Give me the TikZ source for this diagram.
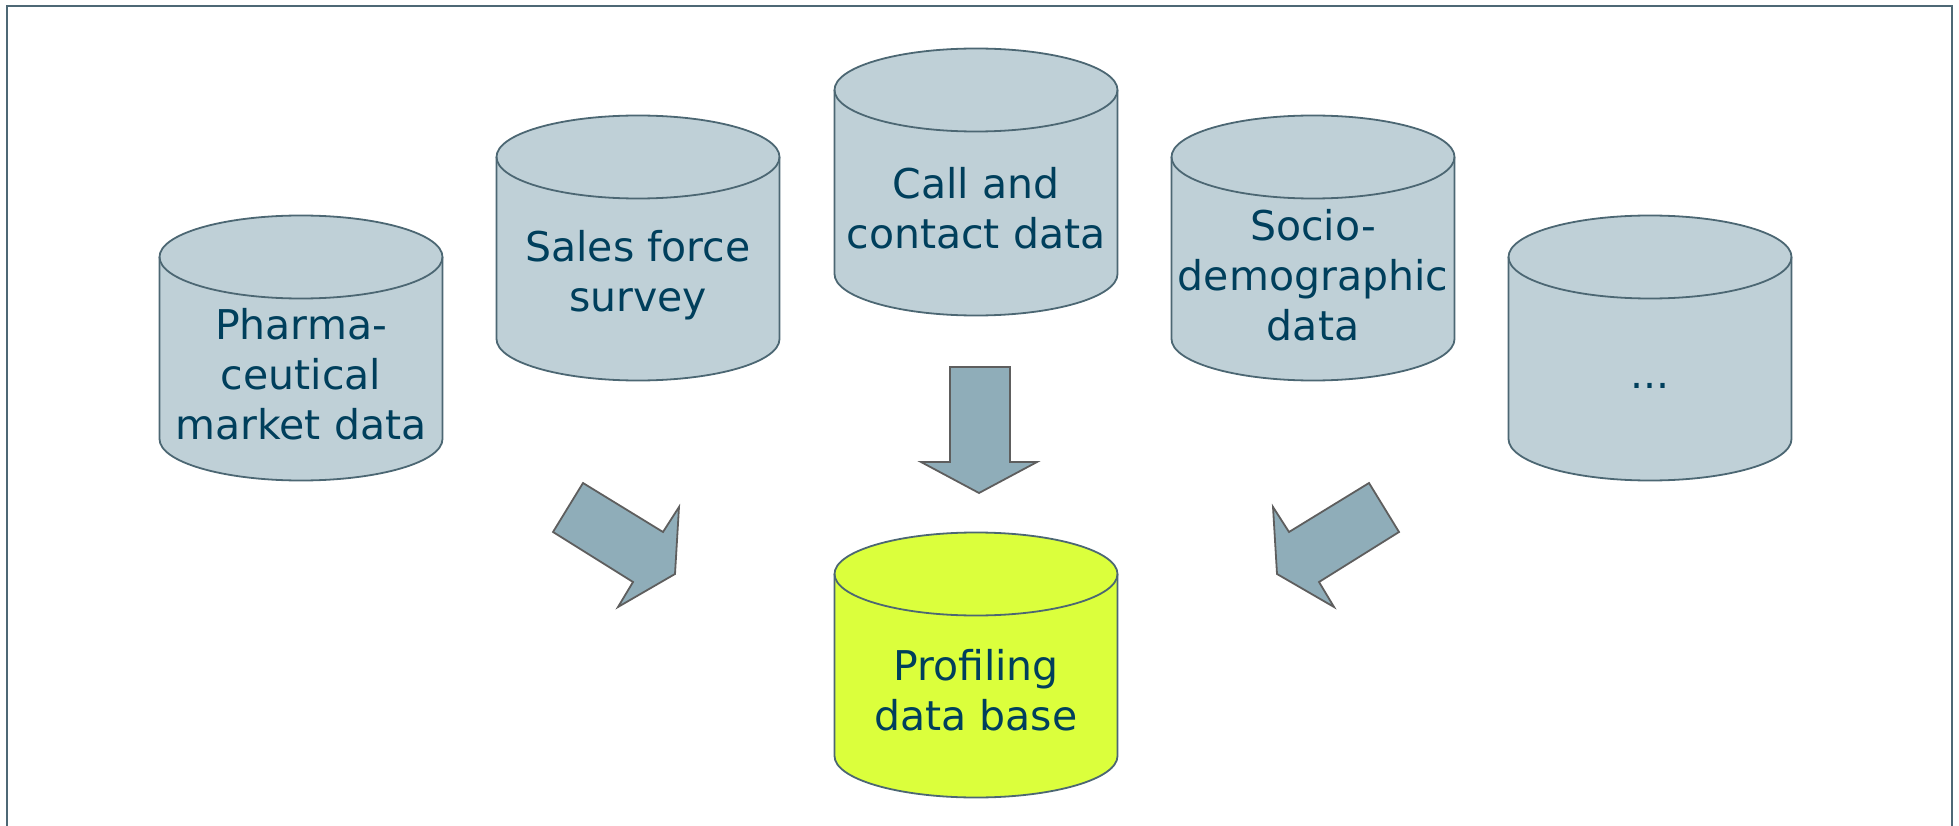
\documentclass[tikz,border=0pt]{standalone}
\usepackage{fontspec}
\setmainfont{DejaVu Sans}
\definecolor{dbfill}{HTML}{BFD0D7}
\definecolor{dbline}{HTML}{4C6773}
\definecolor{dbtext}{HTML}{003F5C}
\definecolor{dbyellow}{HTML}{DBFF3C}
\definecolor{arrowfill}{HTML}{8FADB9}
\definecolor{arrowline}{HTML}{5E5E5E}
\definecolor{frameline}{HTML}{4D6875}
\begin{document}
\begin{tikzpicture}[x=1pt,y=-1pt,
  dbbody/.style={draw=dbline, line width=1.8pt},
  dblabel/.style={align=center, text=dbtext, inner sep=0pt, font=\fontsize{41}{50}\selectfont},
  blockarrow/.style={draw=arrowline, fill=arrowfill, line width=1.8pt, line join=miter}]
\useasboundingbox (0,0) rectangle (1959,826);
\draw[frameline, line width=2pt] (7,840) -- (7,6) -- (1952,6) -- (1952,840);
% cylinders: centre x / top ellipse y / bottom ellipse y / fill
\foreach \cx/\yt/\yb/\col in {301/257/439/dbfill, 638/157/339/dbfill, 976/90/274/dbfill,
    1313/157/339/dbfill, 1650/257/439/dbfill, 976/574/756/dbyellow}{
  \path[dbbody, fill=\col] (\cx-141.5,\yt) -- (\cx-141.5,\yb)
    arc[start angle=180, end angle=0, x radius=141.5, y radius=41.5]
    -- (\cx+141.5,\yt) arc[start angle=0, end angle=-180, x radius=141.5, y radius=41.5] -- cycle;
  \draw[dbbody] (\cx-141.5,\yt) arc[start angle=180, end angle=0, x radius=141.5, y radius=41.5];
}
% sources
\node[dblabel] (pharma) at (301,374) {Pharma-\\ceutical\\market data};
\node[dblabel] (sales) at (638,275) {Sales force\\survey};
\node[dblabel] (calls) at (976,208) {Call and\\contact data};
\node[dblabel] (socio) at (1313,275) {Socio-\\demographic\\data};
\node[dblabel, anchor=base] (more) at (1650,388) {...};
% target
\node[dblabel] (profile) at (976,690) {Profiling\\data base};
% arrows
\path[blockarrow] (583,483) -- (663,532) -- (679,507) -- (675,574) -- (618,607) -- (633,582) -- (553,532) -- cycle;
\path[blockarrow] (950,367) -- (1010,367) -- (1010,462) -- (1037,462) -- (979,493) -- (921,462) -- (950,462) -- cycle;
\path[blockarrow] (1369,483) -- (1289,532) -- (1273,507) -- (1277,574) -- (1334,607) -- (1319,582) -- (1399,532) -- cycle;
\end{tikzpicture}
\end{document}
